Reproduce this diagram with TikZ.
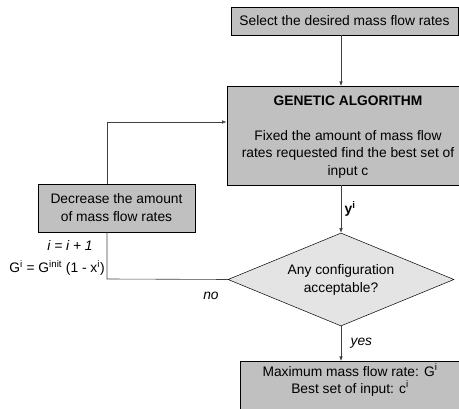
\documentclass[tikz,border=0pt]{standalone}
\usepackage{fontspec}
\setmainfont{Liberation Sans}
\usetikzlibrary{shapes.geometric,arrows.meta,shadows}
\definecolor{boxgray}{HTML}{C0C0C0}
\definecolor{diagray}{HTML}{E4E4E4}
\tikzset{
  procbox/.style={draw=black, line width=0.8pt, fill=boxgray, inner sep=0pt, align=center,
    drop shadow={shadow xshift=1.4pt, shadow yshift=-1.4pt, opacity=1, fill=black}},
  decision/.style={draw=black, line width=0.5pt, fill=diagray, diamond, inner sep=0pt, align=center},
  conn/.style={draw=black!75, line width=0.6pt},
  arr/.style={conn, -{Latex[length=4.5pt,width=3.5pt]}},
  lbl/.style={font=\fontsize{13.8}{17}\selectfont\itshape},
}
\begin{document}
\begin{tikzpicture}[x=1pt,y=-1pt, font=\fontsize{13.8}{18}\selectfont]
\useasboundingbox (0,0) rectangle (459,409);
\begin{scope}
\clip (0,0) rectangle (459,409);
\node[procbox, minimum width=227pt, minimum height=28pt] (sel) at (344.5,21) {Select the desired mass flow rates};
\node[procbox, minimum width=242pt, minimum height=99pt] (ga) at (348,135.5) {};
\node[procbox, minimum width=222pt, minimum height=60pt] (res) at (351,391) {};
\end{scope}
\node[font=\fontsize{13.8}{18}\selectfont\bfseries] (gat) at (348,101) {GENETIC ALGORITHM};
\node[align=center, font=\fontsize{13.8}{17.5}\selectfont] (gab) at (348,154) {Fixed the amount of mass flow\\rates requested find the best set of\\input c};
\node[procbox, minimum width=157pt, minimum height=48pt] (dec) at (116.5,208) {Decrease the amount\\of mass flow rates};
\node[decision, minimum width=226pt, minimum height=93pt, aspect=2.43] (dia) at (341,279.5) {Any configuration\\acceptable?};
\node[align=center, font=\fontsize{13.8}{17}\selectfont] (rest) at (350,380) {Maximum mass flow rate: G\textsuperscript{i}\\Best set of input: c\textsuperscript{i}};
\node[lbl] (inc) at (70,246) {i = i + 1};
\node (gform) at (57,268) {G\textsuperscript{i} = G\textsuperscript{init} (1 - x\textsuperscript{i})};
\coordinate (top) at (107,122);
\coordinate (bot) at (107,279);
\draw[arr] (sel.south -| 341,0) -- (341,86);
\draw[arr] (341,185) -- (dia.north) node[midway, right, font=\fontsize{13.8}{18}\selectfont\bfseries, xshift=0pt] (yl) {y\textsuperscript{i}};
\draw[arr] (dia.south) -- (341,361) node[midway, right, lbl, xshift=6pt] (yes) {yes};
\draw[conn] (dia.west) -- (bot) -- (dec.south -| bot);
\draw[arr] (dec.north -| top) -- (top) -- (ga.west |- top);
\node[lbl] (no) at (211,296) {no};
\end{tikzpicture}
\end{document}
